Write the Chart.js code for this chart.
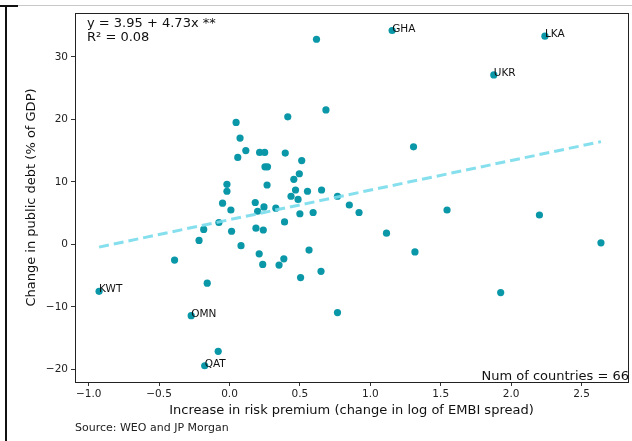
<!DOCTYPE html>
<html>
<head>
<meta charset="utf-8">
<script src="https://cdn.jsdelivr.net/npm/chart.js@4.4.0/dist/chart.umd.min.js"></script>
<style>
  body { margin: 0; background: #fff; }
  #wrap { position: relative; width: 632px; height: 441px; overflow: hidden; font-family: 'DejaVu Sans', sans-serif; }
  #chart { position: absolute; left: 0; top: 0; }
  .rule-top { position: absolute; left: 0; top: 5px; width: 632px; height: 1px; background: #c8c8c8; }
  .rule-tab { position: absolute; left: 0; top: 5px; width: 18px; height: 2px; background: #111; }
  .rule-left { position: absolute; left: 5px; top: 5px; width: 2px; height: 436px; background: #111; }
  .source { position: absolute; left: 75px; top: 421px; font-size: 11px; color: #222; }
</style>
</head>
<body>
<div id="wrap">
  <canvas id="chart" width="632" height="441"></canvas>
  <div class="rule-top"></div>
  <div class="rule-tab"></div>
  <div class="rule-left"></div>
  <div class="source">Source: WEO and JP Morgan</div>
</div>
<script>
// values
const riskPremium = [1.155, 2.24, 1.877, 0.618, 0.685, 1.307, 1.545, 2.201, 2.638, 1.926,
  1.115, 1.317, 0.767, 0.851, 0.92, 0.767, 0.654, 0.554, 0.594, 0.5,
  0.487, 0.565, 0.65, 0.505, 0.391, 0.386, 0.352, 0.414, 0.396, 0.513,
  0.496, 0.457, 0.469, 0.437, 0.047, 0.075, 0.116, 0.059, 0.214, 0.25,
  0.252, 0.27, 0.267, -0.018, -0.018, -0.049, 0.183, 0.245, 0.329, 0.01,
  0.2, -0.075, -0.183, -0.216, 0.015, 0.188, 0.24, 0.082, 0.211, 0.236,
  -0.158, -0.926, -0.39, -0.272, -0.08, -0.176];
const debtChange = [34.2, 33.3, 27.1, 32.8, 21.5, 15.6, 5.5, 4.7, 0.26, -7.7,
  1.8, -1.2, -10.9, 6.3, 5.1, 7.7, 8.7, 8.5, 5.1, 4.9,
  7.2, -0.9, -4.3, -5.3, 3.6, -2.3, -3.3, 20.4, 14.6, 13.4,
  11.3, 10.4, 8.7, 7.7, 19.5, 17.0, 15.0, 13.9, 14.7, 14.7,
  12.4, 12.4, 9.5, 9.6, 8.5, 6.6, 6.7, 6.0, 5.8, 5.5,
  5.3, 3.5, 2.4, 0.64, 2.1, 2.6, 2.3, -0.2, -1.5, -3.2,
  -6.2, -7.5, -2.5, -11.4, -17.1, -19.4];
const countryCodes = ['GHA', 'LKA', 'UKR', '', '', '', '', '', '', '',
  '', '', '', '', '', '', '', '', '', '',
  '', '', '', '', '', '', '', '', '', '',
  '', '', '', '', '', '', '', '', '', '',
  '', '', '', '', '', '', '', '', '', '',
  '', '', '', '', '', '', '', '', '', '',
  '', 'KWT', '', 'OMN', '', 'QAT'];

// fitted line end points
const fitX = [-0.926, 2.638];
const fitY = [-0.43, 16.43];

const xTicks = [-1, -0.5, 0, 0.5, 1, 1.5, 2, 2.5];
const yTicks = [-20, -10, 0, 10, 20, 30];

const fitText = ['y = 3.95 + 4.73x **', 'R\u00B2 = 0.08'];
const countText = 'Num of countries = 66';

const FONT = "'DejaVu Sans', sans-serif";
const minus = s => s.replace('-', '\u2212');

// country codes, fit text, count and the box around the plot
const extras = {
  id: 'extras',
  afterDatasetsDraw(chart) {
    const ctx = chart.ctx;
    const area = chart.chartArea;
    const meta = chart.getDatasetMeta(1);
    ctx.save();
    ctx.fillStyle = '#111';
    ctx.font = '10.5px ' + FONT;
    ctx.textAlign = 'left';
    ctx.textBaseline = 'alphabetic';
    meta.data.forEach((pt, i) => {
      if (countryCodes[i]) ctx.fillText(countryCodes[i], pt.x, pt.y + 1);
    });

    ctx.font = '13px ' + FONT;
    ctx.fillText(fitText[0], area.left + 12, 27);
    ctx.fillText(fitText[1], area.left + 12, 41);
    ctx.textAlign = 'right';
    ctx.fillText(countText, 629, 380);

    ctx.strokeStyle = '#222';
    ctx.lineWidth = 1;
    ctx.strokeRect(area.left + 0.5, area.top + 0.5, area.right - area.left, area.bottom - area.top);
    ctx.restore();
  }
};

const points = riskPremium.map((x, i) => ({ x: x, y: debtChange[i] }));
const fitLine = fitX.map((x, i) => ({ x: x, y: fitY[i] }));

new Chart(document.getElementById('chart').getContext('2d'), {
  type: 'scatter',
  data: {
    datasets: [{
      type: 'line',
      data: fitLine,
      borderColor: 'rgba(120, 220, 235, 0.9)',
      borderWidth: 3,
      borderDash: [10, 5],
      pointRadius: 0,
      fill: false
    }, {
      data: points,
      backgroundColor: '#0a97a8',
      borderColor: '#0a97a8',
      borderWidth: 0,
      pointRadius: 3.6
    }]
  },
  options: {
    responsive: false,
    animation: false,
    devicePixelRatio: 1,
    layout: { padding: { top: 13, left: 0, right: 0, bottom: 0 } },
    plugins: { legend: { display: false }, tooltip: { enabled: false } },
    scales: {
      x: {
        type: 'linear',
        min: -1.097,
        max: 2.83,
        afterFit(scale) { scale.height = 59; },
        afterBuildTicks(scale) { scale.ticks = xTicks.map(v => ({ value: v })); },
        grid: { drawOnChartArea: false, drawTicks: true, tickLength: 4, tickColor: '#333' },
        border: { display: true, color: '#222' },
        ticks: {
          color: '#222',
          padding: 2,
          maxRotation: 0,
          font: { family: FONT, size: 10.5 },
          callback: v => minus(v.toFixed(1))
        },
        title: {
          display: true,
          text: 'Increase in risk premium (change in log of EMBI spread)',
          color: '#111',
          font: { family: FONT, size: 13 },
          padding: { top: 0, bottom: 23 }
        }
      },
      y: {
        type: 'linear',
        min: -22,
        max: 37,
        afterFit(scale) { scale.width = 75; },
        afterBuildTicks(scale) { scale.ticks = yTicks.map(v => ({ value: v })); },
        grid: { drawOnChartArea: false, drawTicks: true, tickLength: 4, tickColor: '#333' },
        border: { display: true, color: '#222' },
        ticks: {
          color: '#222',
          padding: 3,
          font: { family: FONT, size: 10.5 },
          callback: v => minus(String(v))
        },
        title: {
          display: true,
          text: 'Change in public debt (% of GDP)',
          color: '#111',
          font: { family: FONT, size: 13 },
          padding: { top: 24, bottom: 0 }
        }
      }
    }
  },
  plugins: [extras]
});
</script>
</body>
</html>
